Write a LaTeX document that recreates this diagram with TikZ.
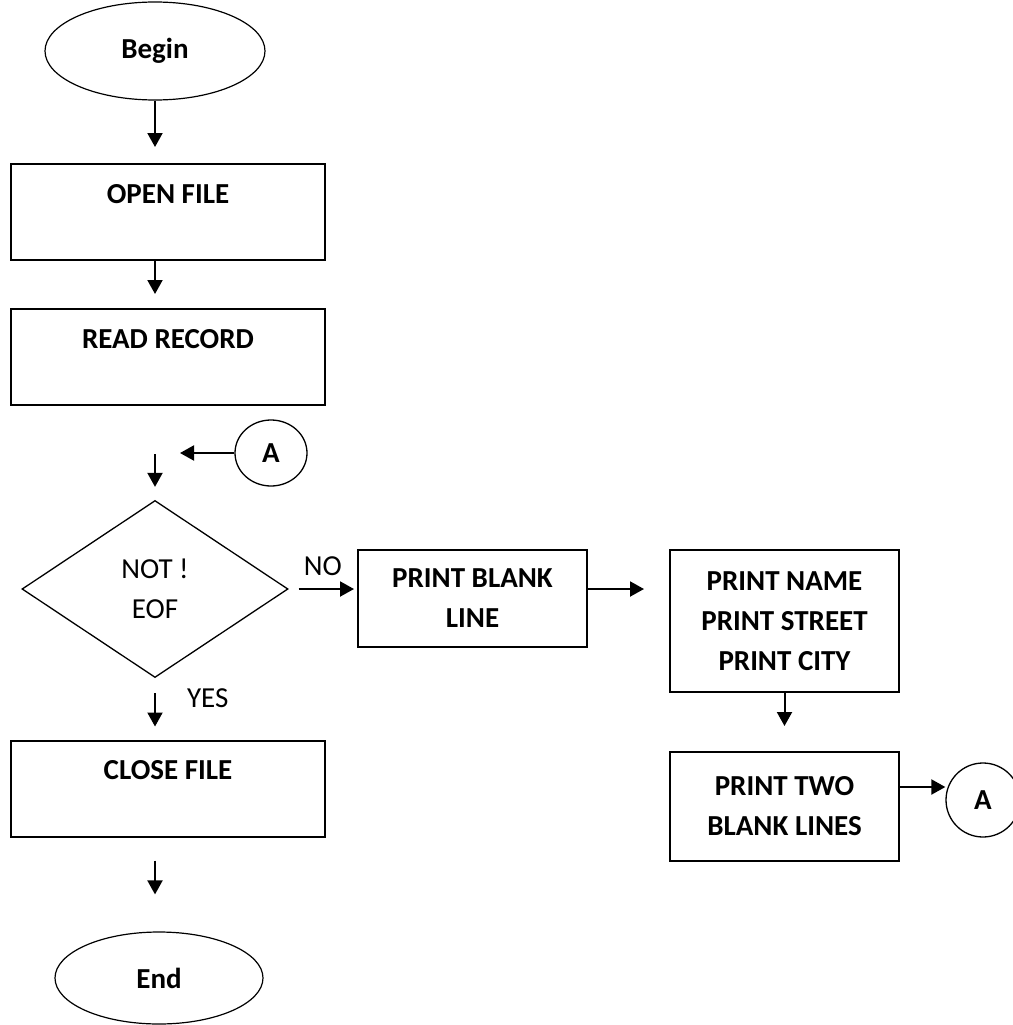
\documentclass[tikz,border=0pt]{standalone}
\usepackage{fontspec}
\setmainfont{Carlito}
\usepackage{tikz}
\usetikzlibrary{shapes.geometric, arrows.meta, positioning, calc}
\newcommand{\flowfont}{\fontsize{29}{40}\selectfont}
\tikzstyle{term} = [draw, ellipse, line width=1.2pt, inner sep=0pt, font=\flowfont\bfseries]
\tikzstyle{proc} = [draw, rectangle, line width=2pt, minimum width=314pt, inner sep=0pt, text height=39pt, text depth=57pt, font=\flowfont\bfseries]
\tikzstyle{multi} = [draw, rectangle, line width=2pt, minimum width=229pt, inner sep=0pt, align=center, font=\flowfont\bfseries]
\tikzstyle{decision} = [draw, diamond, line width=1.3pt, minimum width=266pt, minimum height=177pt, inner sep=0pt, align=center, font=\flowfont]
\tikzstyle{conn} = [draw, ellipse, line width=1.3pt, inner sep=0pt, font=\flowfont\bfseries]
\tikzstyle{arrow} = [-{Triangle[length=14pt, width=15pt]}, line width=2pt]

\begin{document}
\begin{tikzpicture}[x=1pt, y=-1pt]
    \useasboundingbox (0,0) rectangle (1012,1025);

    % Main column
    \node[term, minimum width=220pt, minimum height=98pt] (begin) at (155, 51) {Begin};
    \node[proc] (openfile) at (168, 212) {OPEN FILE};
    \node[proc] (readrec) at (168, 357) {READ RECORD};
    \node[conn, minimum width=72pt, minimum height=66pt] (connA) at (271, 453) {A};
    \coordinate (loopin) at (180, 453);
    \node[decision] (noteof) at (155, 589) {NOT !\\EOF};
    \node[proc] (closefile) at (168, 788.5) {CLOSE FILE};
    \node[term, minimum width=208pt, minimum height=92pt] (finish) at (159, 978) {End};

    % Loop body
    \node[multi, minimum height=97pt] (blankline) at (472.5, 598.5) {PRINT BLANK\\LINE};
    \node[multi, minimum height=142pt] (address) at (784.5, 621) {PRINT NAME\\PRINT STREET\\PRINT CITY};
    \node[multi, minimum height=109pt] (twolines) at (784.5, 806.5) {PRINT TWO\\BLANK LINES};
    \node[conn, minimum size=74pt] (connB) at (983, 800) {A};

    % Arrows
    \draw[arrow, shorten >=16pt] (begin.south) -- (openfile.north -| begin);
    \draw[arrow, shorten >=14pt] (openfile.south -| begin) -- (readrec.north -| begin);
    \draw[arrow, shorten <=48pt, shorten >=13pt] (readrec.south -| begin) -- (noteof.north);
    \draw[arrow] (connA) -- (loopin);
    \draw[arrow, shorten <=10pt, shorten >=3pt] (noteof.east) -- (blankline.west |- noteof.east)
        node[midway, above=12pt, font=\flowfont, inner sep=0pt] {NO};
    \draw[arrow, shorten >=25pt] (blankline.east |- noteof) -- (address.west |- noteof);
    \draw[arrow, shorten >=25pt] (address.south) -- (twolines.north);
    \draw[arrow] ([yshift=19.5pt]twolines.east) -- ([yshift=13pt]connB.west);
    \draw[arrow, shorten <=15pt, shorten >=13pt] (noteof.south) -- (closefile.north -| noteof)
        node[midway, right=31pt, yshift=11pt, font=\flowfont, inner sep=0pt] {YES};
    \draw[arrow, shorten <=23pt, shorten >=37pt] (closefile.south -| begin) -- (finish.north -| begin);
\end{tikzpicture}
\end{document}
